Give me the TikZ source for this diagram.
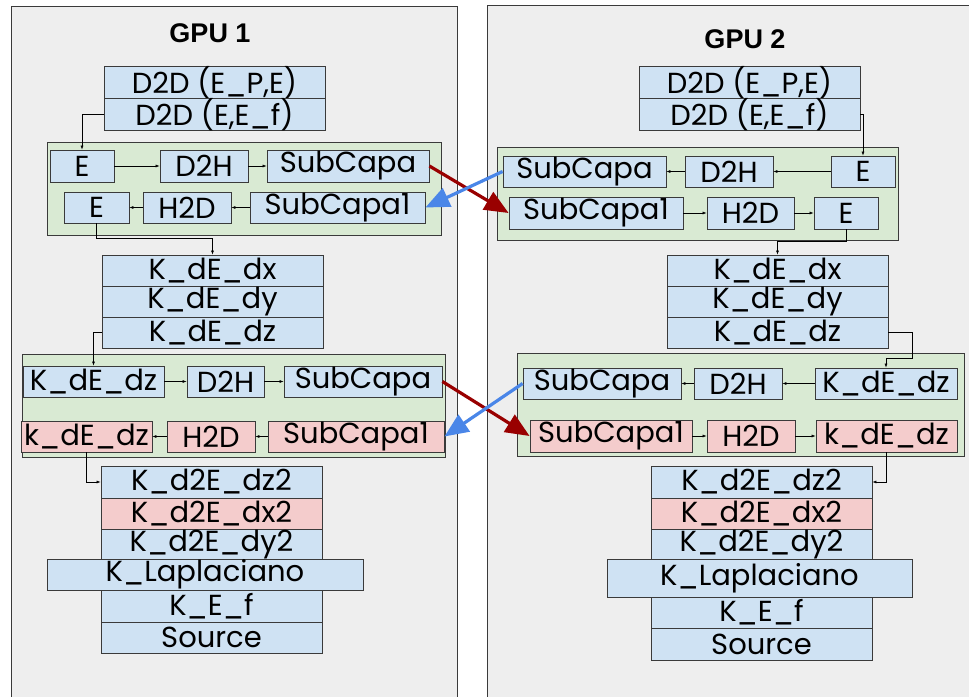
\documentclass[tikz,border=0pt]{standalone}
\usepackage{fontspec}
\setmainfont{Poppins}
\newfontfamily\titlefont{Liberation Sans}
\usetikzlibrary{arrows.meta,calc}
\definecolor{panelfill}{HTML}{EEEEEE}
\definecolor{bluefill}{HTML}{CFE2F3}
\definecolor{pinkfill}{HTML}{F4CCCC}
\definecolor{greenfill}{HTML}{D9EAD3}
\definecolor{edgegray}{HTML}{3A3A3A}
\definecolor{xred}{HTML}{990000}
\definecolor{xblue}{HTML}{4A86E8}
\newcommand\bx[7]{\node[#6, minimum width={#4-#2}, minimum height={#5-#3}] (#1) at ({(#2+#4)/2},{(#3+#5)/2}) {#7};}
\tikzset{
  blk/.style={draw=edgegray, line width=0.8pt, inner sep=0pt, font=\fontsize{29}{29}\selectfont},
  bluebox/.style={blk, fill=bluefill},
  pinkbox/.style={blk, fill=pinkfill},
  greenbox/.style={draw=edgegray, line width=0.8pt, fill=greenfill, inner sep=0pt},
  panel/.style={draw=edgegray, line width=0.9pt, fill=panelfill},
  flow/.style={draw=black, line width=0.6pt, -{Latex[length=4pt,width=3pt]}},
  xfer/.style={line width=3.2pt, -{Triangle[length=24pt,width=20pt]}},
  title/.style={font=\titlefont\bfseries\fontsize{27}{27}\selectfont, inner sep=0pt}
}
\begin{document}
\begin{tikzpicture}[x=1pt,y=-1pt]
\useasboundingbox (0,0) rectangle (969,696);
\fill[white] (0,0) rectangle (969,696);
% panels
\draw[panel] (11,6) rectangle (457,705);
\draw[panel] (487,5) rectangle (980,705);
\node[title] (t1) at (210,33) {GPU 1};
\node[title] (t2) at (745,39) {GPU 2};

% ===== GPU 1 =====
\bx{dA}{104}{67}{325}{99}{bluebox}{D2D (E\_P,E)}
\bx{dB}{104}{99}{325}{130}{bluebox}{D2D (E,E\_f)}
\bx{gL1}{47}{142}{441}{235}{greenbox}{}
\bx{eL1}{50}{150}{114}{182}{bluebox}{E}
\bx{dhL1}{160}{150}{248}{182}{bluebox}{D2H}
\bx{scL1}{267}{150}{429}{182}{bluebox}{SubCapa}
\bx{eL2}{64}{192}{129}{223}{bluebox}{E}
\bx{hdL2}{143}{192}{231}{223}{bluebox}{H2D}
\bx{scL2}{250}{192}{425}{223}{bluebox}{SubCapa1}
\bx{kxL}{102}{255}{323}{286}{bluebox}{K\_dE\_dx}
\bx{kyL}{102}{286}{323}{317}{bluebox}{K\_dE\_dy}
\bx{kzL}{102}{317}{323}{348}{bluebox}{K\_dE\_dz}
\bx{gL2}{22}{354}{445}{457}{greenbox}{}
\bx{kzL1}{23}{366}{164}{397}{bluebox}{K\_dE\_dz}
\bx{dhL3}{187}{366}{264}{397}{bluebox}{D2H}
\bx{scL3}{284}{366}{442}{397}{bluebox}{SubCapa}
\bx{kzL2}{21}{421}{152}{452}{pinkbox}{k\_dE\_dz}
\bx{hdL4}{167}{421}{255}{452}{pinkbox}{H2D}
\bx{scL4}{268}{421}{444}{452}{pinkbox}{SubCapa1}
\bx{k2zL}{101}{466}{322}{498}{bluebox}{K\_d2E\_dz2}
\bx{k2xL}{101}{498}{322}{529}{pinkbox}{K\_d2E\_dx2}
\bx{k2yL}{101}{529}{322}{560}{bluebox}{K\_d2E\_dy2}
\bx{lapL}{47}{559}{363}{590}{bluebox}{K\_Laplaciano}
\bx{efL}{101}{590}{322}{622}{bluebox}{K\_E\_f}
\bx{srcL}{101}{622}{322}{653}{bluebox}{Source}

% ===== GPU 2 =====
\bx{dC}{639}{67}{860}{99}{bluebox}{D2D (E\_P,E)}
\bx{dD}{639}{99}{860}{130}{bluebox}{D2D (E,E\_f)}
\bx{gR1}{497}{147}{898}{240}{greenbox}{}
\bx{scR1}{503}{156}{666}{187}{bluebox}{SubCapa}
\bx{dhR1}{685}{156}{773}{187}{bluebox}{D2H}
\bx{eR1}{831}{156}{895}{187}{bluebox}{E}
\bx{scR2}{509}{197}{683}{229}{bluebox}{SubCapa1}
\bx{hdR2}{707}{197}{794}{229}{bluebox}{H2D}
\bx{eR2}{814}{197}{878}{229}{bluebox}{E}
\bx{kxR}{667}{255}{888}{286}{bluebox}{K\_dE\_dx}
\bx{kyR}{667}{286}{888}{317}{bluebox}{K\_dE\_dy}
\bx{kzR}{667}{317}{888}{348}{bluebox}{K\_dE\_dz}
\bx{gR2}{517}{353}{964}{456}{greenbox}{}
\bx{scR3}{523}{368}{681}{399}{bluebox}{SubCapa}
\bx{dhR3}{694}{368}{782}{399}{bluebox}{D2H}
\bx{kzR1}{815}{368}{957}{399}{bluebox}{K\_dE\_dz}
\bx{scR4}{530}{420}{692}{452}{pinkbox}{SubCapa1}
\bx{hdR4}{707}{420}{795}{452}{pinkbox}{H2D}
\bx{kzR2}{816}{420}{957}{452}{pinkbox}{k\_dE\_dz}
\bx{k2zR}{651}{466}{872}{498}{bluebox}{K\_d2E\_dz2}
\bx{k2xR}{651}{498}{872}{529}{pinkbox}{K\_d2E\_dx2}
\bx{k2yR}{651}{529}{872}{560}{bluebox}{K\_d2E\_dy2}
\bx{lapR}{607}{559}{912}{597}{bluebox}{K\_Laplaciano}
\bx{efR}{651}{597}{872}{628}{bluebox}{K\_E\_f}
\bx{srcR}{651}{628}{872}{660}{bluebox}{Source}

% ===== flow connectors GPU 1 =====
\draw[flow] (dB.west) -| (eL1.north);
\draw[flow] (eL1) -- (dhL1);
\draw[flow] (dhL1) -- (scL1);
\draw[flow] (scL2) -- (hdL2);
\draw[flow] (hdL2) -- (eL2);
\draw[flow] (eL2.south) -- (eL2.south |- 0,238) -| (kxL.north);
\draw[flow] (kzL.west) -| (kzL1.north);
\draw[flow] (kzL1) -- (dhL3);
\draw[flow] (dhL3) -- (scL3);
\draw[flow] (scL4) -- (hdL4);
\draw[flow] (hdL4) -- (kzL2);
\draw[flow] (kzL2.south) |- (k2zL.west);

% ===== flow connectors GPU 2 =====
\draw[flow] (dD.east) -| (eR1.north);
\draw[flow] (eR1) -- (dhR1);
\draw[flow] (dhR1) -- (scR1);
\draw[flow] (scR2) -- (hdR2);
\draw[flow] (hdR2) -- (eR2);
\draw[flow] (eR2.south) -- (eR2.south |- 0,241) -| (kxR.north);
\draw[flow] (kzR.east) -- (kzR.east -| 912,0) -- (912,358) -| (kzR1.north);
\draw[flow] (kzR1) -- (dhR3);
\draw[flow] (dhR3) -- (scR3);
\draw[flow] (scR4) -- (hdR4);
\draw[flow] (hdR4) -- (kzR2);
\draw[flow] (kzR2.south) |- (k2zR.east);

% ===== transfers =====
\draw[xfer, xred] (scL1.east) -- (scR2.west);
\draw[xfer, xblue] (scR1.west) -- (scL2.east);
\draw[xfer, xred] (scL3.east) -- (scR4.west);
\draw[xfer, xblue] (scR3.west) -- (scL4.east);
\end{tikzpicture}
\end{document}
